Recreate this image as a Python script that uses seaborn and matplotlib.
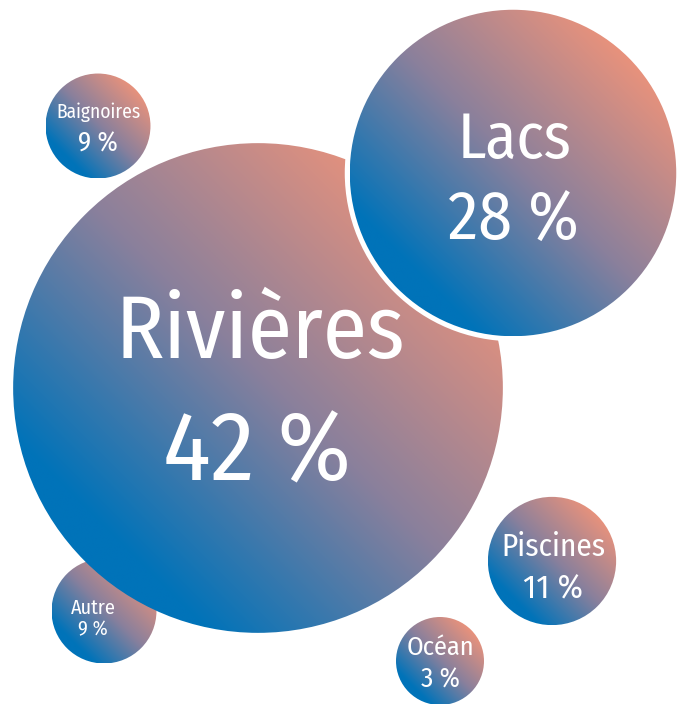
import numpy as np
import matplotlib
matplotlib.use("Agg")
import matplotlib.pyplot as plt
from matplotlib.patches import Circle
import seaborn as sns

# ---- data ----
categories = ["Autre", "Rivières", "Lacs", "Baignoires", "Piscines", "Océan"]
percent_values = [9, 42, 28, 9, 11, 3]
value_labels = ["9 %", "42 %", "28 %", "9 %", "11 %", "3 %"]

# ---- layout (pixel coordinates, y downward) ----
centers_x = [104, 258, 513, 98, 552, 440]
centers_y = [611, 388, 173, 126, 561, 661]
radius_per_percent = 5.83
min_radius = 44
name_sizes = [14.5, 64, 46, 14, 22.5, 19]
value_sizes = [14.5, 71, 49, 19.5, 24.5, 19.5]
name_base = [614, 358, 158, 118, 556, 655]
value_base = [635, 480, 239, 152, 598, 688]
name_x = [93, 260, 515, 98, 553, 440]
value_x = [93, 257, 513, 98, 553, 440]
white_edge = [0, 0, 5, 0, 0, 0]

W, H = 681, 704
sns.set_theme(style="white")
plt.rcParams['font.family'] = ['Fira Sans Condensed', 'DejaVu Sans']

cmap = sns.blend_palette(["#0073b9", "#8a809c", "#e8927c"], as_cmap=True)

fig = plt.figure(figsize=(W / 100, H / 100), dpi=100)
ax = fig.add_axes([0, 0, 1, 1])
ax.set_xlim(0, W)
ax.set_ylim(H, 0)
ax.set_aspect("equal")
ax.axis("off")

# gradient along the 45° diagonal (lower-left blue -> upper-right salmon)
n = 300
gx, gy = np.meshgrid(np.linspace(-1, 1, n), np.linspace(-1, 1, n))
proj = (gx - gy) / np.sqrt(2)
mid = 0.05
t = np.where(proj < mid, 0.5 * (proj + 0.85) / (mid + 0.85),
             0.5 + 0.5 * (proj - mid) / (1.0 - mid))
t = np.clip(t, 0, 1)

for i, cat in enumerate(categories):
    cx, cy = centers_x[i], centers_y[i]
    r = max(percent_values[i] * radius_per_percent, min_radius)
    z = 2 * i
    if white_edge[i]:
        ring = Circle((cx, cy), r + white_edge[i], facecolor="white",
                      edgecolor="none", zorder=z)
        ax.add_patch(ring)
    clip = Circle((cx, cy), r, facecolor="none", edgecolor="none",
                  transform=ax.transData)
    ax.add_patch(clip)
    im = ax.imshow(t, cmap=cmap, vmin=0, vmax=1,
                   extent=[cx - r, cx + r, cy + r, cy - r],
                   interpolation="bilinear", zorder=z + 0.5)
    im.set_clip_path(clip)
    ax.text(name_x[i], name_base[i], cat, color="white", fontweight=400,
            fontsize=name_sizes[i], ha="center", va="baseline", zorder=z + 1)
    ax.text(value_x[i], value_base[i], value_labels[i], color="white", fontweight=400,
            fontsize=value_sizes[i], ha="center", va="baseline", zorder=z + 1)

ax.set_xlim(0, W)
ax.set_ylim(H, 0)
fig.savefig("out.png", dpi=100)
